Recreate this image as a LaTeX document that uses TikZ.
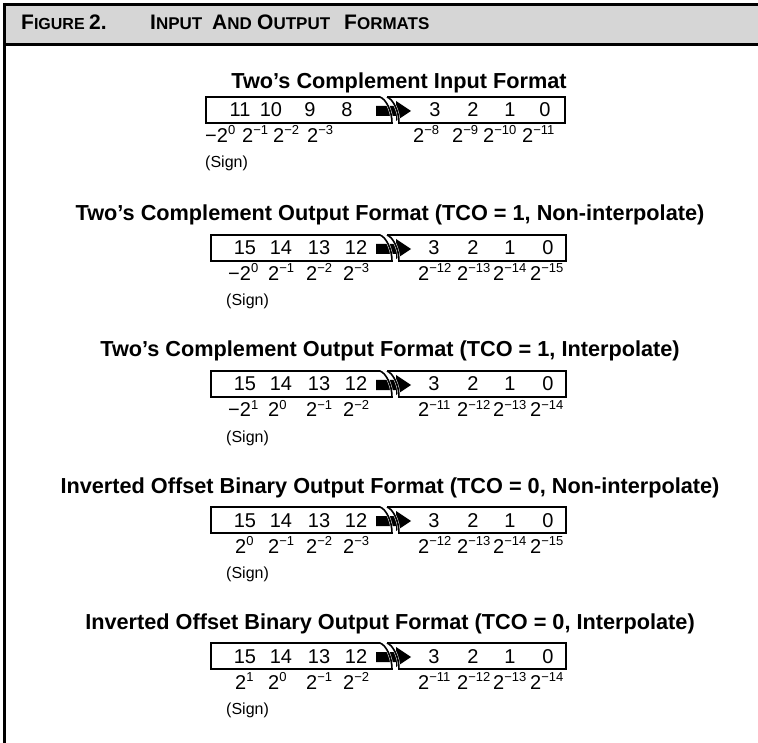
\documentclass[tikz,border=0pt]{standalone}
\usepackage{fontspec}
\setmainfont{Liberation Sans}
\newcommand{\pw}[1]{2\raisebox{8pt}{\fontsize{13}{13}\selectfont #1}}
\newcommand{\hbig}[1]{{\fontsize{21}{21}\selectfont #1}}
\newcommand{\hsm}[1]{{\fontsize{17}{17}\selectfont #1}}
\tikzset{
  boxline/.style={line width=1.6pt},
  num/.style={anchor=base, inner sep=0pt, font=\fontsize{20}{20}\selectfont},
  expo/.style={anchor=base west, inner sep=0pt, font=\fontsize{20}{20}\selectfont},
  sgn/.style={anchor=base west, inner sep=0pt, font=\fontsize{16}{16}\selectfont},
  ttl/.style={anchor=base, inner sep=0pt, font=\fontsize{21.7}{22}\selectfont\bfseries},
  hdr/.style={anchor=base west, inner sep=0pt, font=\bfseries},
}
\newcommand{\bitbox}[2]{%
  \fill (376,9) -- (396,9) -- (396,4) -- (411,14) -- (396,24) -- (396,19) -- (376,19) -- (376,9);
  \draw[white,line width=2.6] (380,0) .. controls (386,2) and (392,14) .. (392,26);
  \draw[white,line width=2.6] (387,0) .. controls (393,2) and (399,14) .. (399,26);
  \draw[boxline] (380,0) -- (#1,0) -- (#1,26) -- (392,26) .. controls (392,14) and (386,2) .. (380,0);
  \draw[boxline] (387,0) -- (#2,0) -- (#2,26) -- (399,26) .. controls (399,14) and (393,2) .. (387,0);
}
\begin{document}
\begin{tikzpicture}[x=1pt,y=-1pt]
\useasboundingbox (0,0) rectangle (758,743);
% header band
\fill[black!16] (3,4) rectangle (758,44.5);
\draw[line width=2.5] (3,4.3) -- (758,4.3);
\draw[line width=3] (3,44.5) -- (758,44.5);
\draw[line width=2.5] (4.3,3) -- (4.3,743);
\node[hdr] (hfig) at (21,30) {\hbig{F}{\fontsize{16}{16}\selectfont IGURE}};
\node[hdr] (hnum) at (89,30) {\hbig{2.}};
\node[hdr] (hinp) at (150,30) {\hbig{I}\hsm{NPUT}};
\node[hdr] (hand) at (212,30) {\hbig{A}\hsm{ND}};
\node[hdr] (hout) at (257,30) {\hbig{O}\hsm{UTPUT}};
\node[hdr] (hfmt) at (344,30) {\hbig{F}\hsm{ORMATS}};

% Row 1
\begin{scope}[shift={(0,97)}]
  \node[ttl] (r1t) at (399,-8) {Two’s Complement Input Format};
  \bitbox{206}{565}
  \foreach \x/\t [count=\i] in {240/11, 271/10, 310/9, 347/8, 435/3, 473/2, 510/1, 545/0}
    \node[num] (r1n\i) at (\x,20) {\t};
  \foreach \x/\t [count=\i] in {205/{−\pw{0}}, 242/{\pw{−1}}, 273/{\pw{−2}}, 307/{\pw{−3}}, 413/{\pw{−8}}, 452/{\pw{−9}}, 483/{\pw{−10}}, 522/{\pw{−11}}}
    \node[expo] (r1e\i) at (\x,46) {\t};
  \node[sgn] (r1s) at (205,71) {(Sign)};
\end{scope}

% Row 2
\begin{scope}[shift={(0,235)}]
  \node[ttl] (r2t) at (390,-14) {Two’s Complement Output Format (TCO = 1, Non-interpolate)};
  \bitbox{211}{566}
  \foreach \x/\t [count=\i] in {245/15, 281/14, 319/13, 356/12, 434/3, 473/2, 510/1, 548/0}
    \node[num] (r2n\i) at (\x,20) {\t};
  \foreach \x/\t [count=\i] in {228/{−\pw{0}}, 268/{\pw{−1}}, 306/{\pw{−2}}, 343/{\pw{−3}}, 418/{\pw{−12}}, 457/{\pw{−13}}, 493/{\pw{−14}}, 530/{\pw{−15}}}
    \node[expo] (r2e\i) at (\x,46) {\t};
  \node[sgn] (r2s) at (226,71) {(Sign)};
\end{scope}

% Row 3
\begin{scope}[shift={(0,371)}]
  \node[ttl] (r3t) at (390,-14) {Two’s Complement Output Format (TCO = 1, Interpolate)};
  \bitbox{211}{566}
  \foreach \x/\t [count=\i] in {245/15, 281/14, 319/13, 356/12, 434/3, 473/2, 510/1, 548/0}
    \node[num] (r3n\i) at (\x,20) {\t};
  \foreach \x/\t [count=\i] in {228/{−\pw{1}}, 268/{\pw{0}}, 306/{\pw{−1}}, 343/{\pw{−2}}, 418/{\pw{−11}}, 457/{\pw{−12}}, 493/{\pw{−13}}, 530/{\pw{−14}}}
    \node[expo] (r3e\i) at (\x,46) {\t};
  \node[sgn] (r3s) at (226,71) {(Sign)};
\end{scope}

% Row 4
\begin{scope}[shift={(0,507)}]
  \node[ttl] (r4t) at (390,-14) {Inverted Offset Binary Output Format (TCO = 0, Non-interpolate)};
  \bitbox{211}{566}
  \foreach \x/\t [count=\i] in {245/15, 281/14, 319/13, 356/12, 434/3, 473/2, 510/1, 548/0}
    \node[num] (r4n\i) at (\x,20) {\t};
  \foreach \x/\t [count=\i] in {235/{\pw{0}}, 268/{\pw{−1}}, 306/{\pw{−2}}, 343/{\pw{−3}}, 418/{\pw{−12}}, 457/{\pw{−13}}, 493/{\pw{−14}}, 530/{\pw{−15}}}
    \node[expo] (r4e\i) at (\x,46) {\t};
  \node[sgn] (r4s) at (226,71) {(Sign)};
\end{scope}

% Row 5
\begin{scope}[shift={(0,643)}]
  \node[ttl] (r5t) at (390,-14) {Inverted Offset Binary Output Format (TCO = 0, Interpolate)};
  \bitbox{211}{566}
  \foreach \x/\t [count=\i] in {245/15, 281/14, 319/13, 356/12, 434/3, 473/2, 510/1, 548/0}
    \node[num] (r5n\i) at (\x,20) {\t};
  \foreach \x/\t [count=\i] in {235/{\pw{1}}, 268/{\pw{0}}, 306/{\pw{−1}}, 343/{\pw{−2}}, 418/{\pw{−11}}, 457/{\pw{−12}}, 493/{\pw{−13}}, 530/{\pw{−14}}}
    \node[expo] (r5e\i) at (\x,46) {\t};
  \node[sgn] (r5s) at (226,71) {(Sign)};
\end{scope}
\end{tikzpicture}
\end{document}
